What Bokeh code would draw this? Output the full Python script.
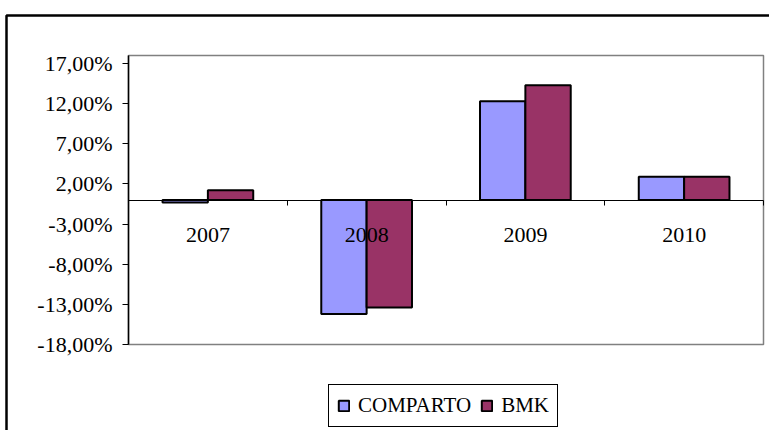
from bokeh.plotting import figure
from bokeh.models import (FixedTicker, BoxAnnotation, Legend, LegendItem, Range1d, LinearAxis)
from bokeh.embed import file_html
from bokeh.resources import INLINE

years = ["2007", "2008", "2009", "2010"]
comparto = [-0.3, -14.2, 12.3, 2.9]
bmk = [1.2, -13.4, 14.3, 2.9]
y_min, y_max = -18, 18
y_ticks = [-18, -13, -8, -3, 2, 7, 12, 17]
y_tick_labels = ["-18,00%", "-13,00%", "-8,00%", "-3,00%", "2,00%", "7,00%", "12,00%", "17,00%"]

FONT = "Liberation Serif"
W, H = 769, 430
# plot-area placement in pixels
PL, PR, PT, PB = 128, 763, 55, 344
n = len(years)
sx = (PR - PL) / n
sy = (PB - PT) / (y_max - y_min)
x_range = Range1d(-PL / sx, n + (W - PR) / sx)
y_range = Range1d(y_min - (H - PB) / sy, y_max + PT / sy)

bar_w = 1 / 3.5

p = figure(width=W, height=H, output_backend="svg", toolbar_location=None,
           x_range=x_range, y_range=y_range,
           x_axis_location=None, y_axis_location=None, min_border=0)
p.xgrid.visible = False
p.ygrid.visible = False
p.outline_line_color = None
p.background_fill_color = "white"
p.border_fill_color = "white"

# outer chart border
outer = BoxAnnotation(left=6, right=3000, top=15, bottom=3000,
                      left_units="canvas", right_units="canvas",
                      top_units="canvas", bottom_units="canvas",
                      fill_color=None, line_color="black", line_alpha=1.0,
                      line_width=2.5, level="underlay")
p.add_layout(outer)

# plot area border
area = BoxAnnotation(left=0, right=n, bottom=y_min, top=y_max,
                     fill_color=None, line_color="#808080", line_alpha=1.0,
                     line_width=1.5, level="underlay")
p.add_layout(area)

xc = [i + 0.5 - bar_w / 2 for i in range(n)]
xb = [i + 0.5 + bar_w / 2 for i in range(n)]
r1 = p.vbar(x=xc, top=comparto, bottom=0, width=bar_w, fill_color="#9999FF",
            line_color="black", line_width=2)
r2 = p.vbar(x=xb, top=bmk, bottom=0, width=bar_w, fill_color="#993366",
            line_color="black", line_width=2)

# y axis
yax = LinearAxis(ticker=FixedTicker(ticks=y_ticks), fixed_location=0, bounds=(y_min, y_max))
yax.major_label_overrides = {t: l for t, l in zip(y_ticks, y_tick_labels)}
yax.major_label_text_font = FONT
yax.major_label_text_font_size = "22px"
yax.major_label_text_color = "black"
yax.major_tick_in = 0
yax.major_tick_out = 6
yax.minor_tick_line_color = None
yax.major_label_standoff = 10
yax.axis_line_color = "black"
yax.axis_line_width = 1.5
p.add_layout(yax, "left")

# x axis at zero
centers = [i + 0.5 for i in range(n)]
bounds = [float(i) for i in range(n + 1)]
xax = LinearAxis(ticker=FixedTicker(ticks=centers, minor_ticks=bounds), fixed_location=0,
                 bounds=(0, n))
xax.major_label_overrides = {c: y for c, y in zip(centers, years)}
xax.major_label_text_font = FONT
xax.major_label_text_font_size = "22px"
xax.major_label_text_color = "black"
xax.major_tick_line_color = None
xax.minor_tick_in = 0
xax.minor_tick_out = 5
xax.minor_tick_line_color = "black"
xax.major_label_standoff = 22
xax.axis_line_color = "black"
p.add_layout(xax, "below")

legend = Legend(items=[LegendItem(label="COMPARTO", renderers=[r1]),
                       LegendItem(label="BMK", renderers=[r2])],
                orientation="horizontal", location=(328, H - 427))
legend.label_text_font = FONT
legend.label_text_font_size = "21px"
legend.label_text_color = "black"
legend.glyph_width = 13
legend.glyph_height = 13
legend.label_standoff = 8
legend.spacing = 9
legend.padding = 8
legend.margin = 0
legend.border_line_color = "black"
legend.border_line_alpha = 1.0
legend.border_line_width = 1
legend.background_fill_color = "white"
legend.background_fill_alpha = 1.0
p.add_layout(legend, "center")

open("out.html", "w").write(file_html(p, INLINE))
